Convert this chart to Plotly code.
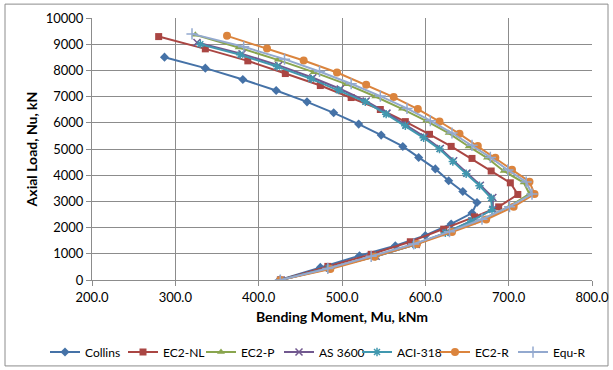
import plotly.graph_objects as go

collins_m = [425, 474, 521, 564, 600, 631, 656, 662, 645, 628, 612, 592, 573, 547, 520, 490, 458, 421, 381, 336, 287]
collins_n = [0, 480, 927, 1308, 1701, 2140, 2555, 2960, 3380, 3790, 4240, 4676, 5096, 5530, 5950, 6381, 6800, 7231, 7651, 8086, 8505]

ec2nl_m = [426, 483, 535, 582, 622, 659, 688, 711, 702, 679, 656, 631, 605, 576, 546, 511, 474, 432, 387, 336, 280]
ec2nl_n = [0, 520, 980, 1460, 1940, 2410, 2790, 3265, 3710, 4160, 4640, 5100, 5560, 6045, 6507, 6964, 7422, 7880, 8364, 8822, 9291]

ec2p_m = [426, 484, 536, 587, 630, 669, 701, 725, 718, 694, 674, 652, 628, 601, 572, 540, 505, 466, 423, 376, 324]
ec2p_n = [0, 430, 895, 1370, 1840, 2320, 2810, 3285, 3720, 4160, 4665, 5096, 5607, 6076, 6533, 7003, 7475, 7933, 8402, 8872, 9356]

as3600_m = [427, 485, 541, 589, 625, 656, 681, 681, 666, 650, 634, 618, 599, 577, 554, 529, 498, 465, 424, 380, 326]
as3600_n = [0, 455, 905, 1360, 1810, 2265, 2700, 3150, 3620, 4080, 4550, 5020, 5460, 5920, 6370, 6830, 7290, 7720, 8190, 8630, 9062]

aci318_m = [426, 484, 540, 588, 624, 655, 680, 679, 665, 649, 633, 617, 598, 576, 553, 528, 496, 463, 422, 378, 330]
aci318_n = [0, 450, 900, 1350, 1800, 2250, 2681, 3127, 3597, 4054, 4523, 4996, 5427, 5885, 6331, 6800, 7247, 7678, 8147, 8593, 9001]

ec2r_m = [426, 486, 539, 590, 632, 673, 706, 731, 725, 704, 684, 663, 641, 617, 591, 562, 529, 494, 454, 410, 362]
ec2r_n = [0, 420, 890, 1373, 1831, 2310, 2800, 3280, 3750, 4207, 4665, 5111, 5580, 6049, 6522, 6980, 7449, 7918, 8376, 8834, 9318]

equr_m = [426, 483, 535, 586, 629, 668, 701, 728, 721, 699, 678, 656, 632, 606, 578, 546, 511, 473, 431, 382, 320]
equr_n = [0, 440, 905, 1375, 1845, 2320, 2800, 3280, 3740, 4200, 4680, 5140, 5610, 6080, 6550, 7020, 7490, 7960, 8430, 8900, 9394]

x_ticks = [200, 300, 400, 500, 600, 700, 800]
y_ticks = [0, 1000, 2000, 3000, 4000, 5000, 6000, 7000, 8000, 9000, 10000]

series = [
    ("Collins", collins_m, collins_n, "#4572A7", "diamond", 7),
    ("EC2-NL", ec2nl_m, ec2nl_n, "#AA4643", "square", 7),
    ("EC2-P", ec2p_m, ec2p_n, "#89A54E", "triangle-up", 7),
    ("AS 3600", as3600_m, as3600_n, "#71588F", "x-thin-open", 7),
    ("ACI-318", aci318_m, aci318_n, "#4198AF", "asterisk-open", 7),
    ("EC2-R", ec2r_m, ec2r_n, "#DB843D", "circle", 8),
    ("Equ-R", equr_m, equr_n, "#93A9CF", "cross-thin-open", 8),
]

fig = go.Figure()
for name, m, n, color, sym, size in series:
    fig.add_trace(go.Scatter(
        x=m, y=n, name=name, mode="lines+markers",
        line=dict(color=color, width=2),
        marker=dict(symbol=sym, size=size, color=color,
                    line=dict(color=color, width=1.5 if "open" in sym else 0)),
    ))

font_family = "Lato, 'Open Sans', sans-serif"
fig.update_layout(
    width=613, height=370,
    margin=dict(l=92, r=21, t=18, b=90, autoexpand=False),
    paper_bgcolor="white", plot_bgcolor="white",
    font=dict(family=font_family, size=13, color="black"),
    showlegend=True,
    legend=dict(orientation="h", x=-0.094, xanchor="left", y=-0.275, yanchor="middle",
                font=dict(size=12), itemwidth=30, entrywidth=33, entrywidthmode="pixels",
                tracegroupgap=0, bgcolor="rgba(0,0,0,0)"),
    xaxis=dict(
        range=[200, 800], tickvals=x_ticks, ticktext=[f"{v:.1f}" for v in x_ticks],
        showgrid=True, gridcolor="#8c8c8c", gridwidth=1,
        showline=True, linecolor="#8c8c8c", linewidth=1,
        ticks="outside", ticklen=5, tickcolor="#8c8c8c",
        zeroline=False, automargin=False,
        title=dict(text="<b>Bending Moment, Mu, kNm</b>", font=dict(size=14), standoff=8),
    ),
    yaxis=dict(
        range=[0, 10000], tickvals=y_ticks, ticktext=[str(v) for v in y_ticks],
        showgrid=True, gridcolor="#8c8c8c", gridwidth=1,
        showline=True, linecolor="#8c8c8c", linewidth=1,
        ticks="outside", ticklen=5, tickcolor="#8c8c8c",
        zeroline=False, automargin=False,
        title=dict(text="<b>Axial Load, Nu, kN</b>", font=dict(size=14), standoff=4),
    ),
    shapes=[dict(type="rect", xref="paper", yref="paper",
                 x0=-0.174, x1=1.032, y0=-0.328, y1=1.053,
                 line=dict(color="#8c8c8c", width=1), layer="below")],
)

fig.write_html("out.html", config={"displayModeBar": False},
               post_script="document.body.style.margin='0';")
